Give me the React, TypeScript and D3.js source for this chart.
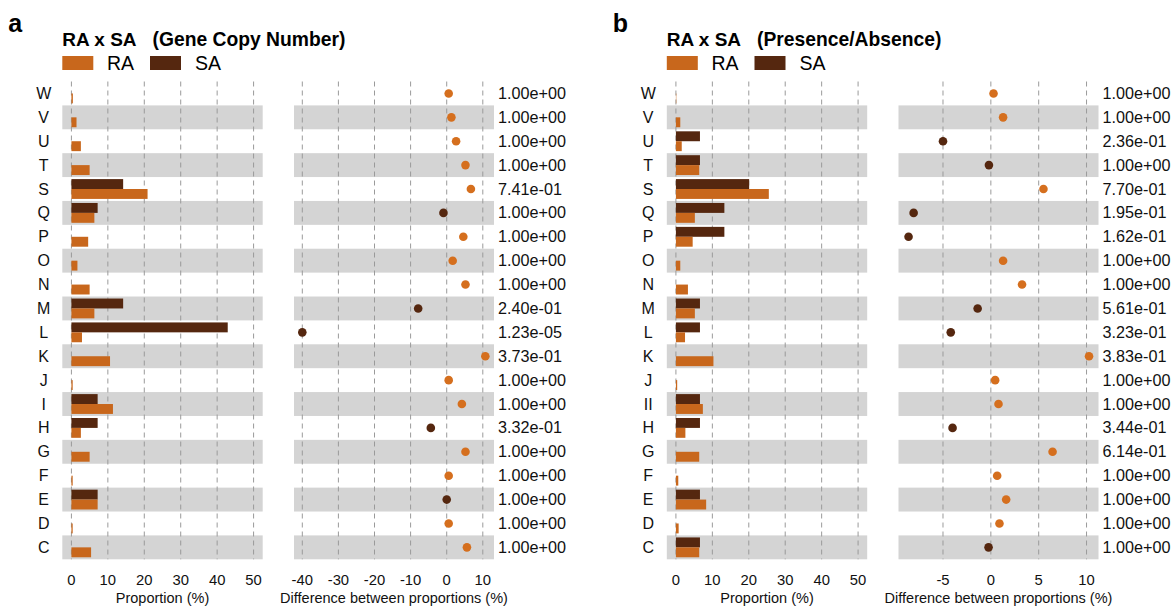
import React from 'react';
import * as d3 from 'd3';

// categories, top to bottom
const categories = ['W', 'V', 'U', 'T', 'S', 'Q', 'P', 'O', 'N', 'M', 'L', 'K', 'J', 'I', 'H', 'G', 'F', 'E', 'D', 'C'];
const labelsA = categories;
const labelsB = categories.map(c => (c === 'I' ? 'II' : c));

// panel a: gene copy number
const gcnRA = [0.4, 1.4, 2.6, 5.0, 20.9, 6.3, 4.6, 1.65, 5.0, 6.3, 2.9, 10.6, 0.35, 11.4, 2.6, 5.0, 0.35, 7.2, 0.35, 5.4];
const gcnSA = [0, 0, 0, 0, 14.2, 7.2, 0, 0, 0, 14.2, 42.9, 0, 0, 7.2, 7.2, 0, 0, 7.2, 0, 0];
const gcnDiff = [0.55, 1.3, 2.6, 5.2, 6.7, -0.9, 4.6, 1.66, 5.2, -7.9, -40.0, 10.7, 0.55, 4.2, -4.4, 5.2, 0.55, 0, 0.55, 5.6];
const gcnP = ['1.00e+00', '1.00e+00', '1.00e+00', '1.00e+00', '7.41e-01', '1.00e+00', '1.00e+00', '1.00e+00', '1.00e+00', '2.40e-01',
  '1.23e-05', '3.73e-01', '1.00e+00', '1.00e+00', '3.32e-01', '1.00e+00', '1.00e+00', '1.00e+00', '1.00e+00', '1.00e+00'];

// panel b: presence / absence
const paRA = [0.1, 1.2, 1.6, 6.4, 25.5, 5.2, 4.6, 1.2, 3.3, 5.2, 2.5, 10.3, 0.35, 7.4, 2.6, 6.4, 0.65, 8.3, 0.75, 6.4];
const paSA = [0, 0, 6.6, 6.6, 20.1, 13.3, 13.3, 0, 0, 6.6, 6.6, 0, 0, 6.6, 6.6, 0, 0, 6.6, 0, 6.6];
const paDiff = [0.28, 1.28, -5.0, -0.2, 5.5, -8.07, -8.6, 1.28, 3.26, -1.38, -4.19, 10.26, 0.45, 0.8, -4.0, 6.45, 0.66, 1.6, 0.9, -0.24];
const paP = ['1.00e+00', '1.00e+00', '2.36e-01', '1.00e+00', '7.70e-01', '1.95e-01', '1.62e-01', '1.00e+00', '1.00e+00', '5.61e-01',
  '3.23e-01', '3.83e-01', '1.00e+00', '1.00e+00', '3.44e-01', '6.14e-01', '1.00e+00', '1.00e+00', '1.00e+00', '1.00e+00'];

const propTicks = [0, 10, 20, 30, 40, 50];
const diffTicksA = [-40, -30, -20, -10, 0, 10];
const diffTicksB = [-5, 0, 5, 10];

const series = ['SA', 'RA'];
const colors: Record<string, string> = { RA: '#c8671c', SA: '#55270f' };
const dotColor = (d: number) => (d > 0 ? '#d56f1e' : '#55270f');

const font = '"Liberation Sans", Arial, Helvetica, sans-serif';
const svgWidth = 1176, svgHeight = 608;
const plotTop = 81.5, plotBottom = 559.3;
const gridColor = '#9a9a9a';

const yScale = d3.scaleBand<string>().domain(categories).range([plotTop, plotBottom]).padding(0);
const dodge = d3.scaleBand<string>().domain(series).range([0, yScale.bandwidth() * 0.83]).padding(0);

const Panel = (props: any) => {
  const { letter, title, sub, x0, labels, ra, sa, diff, pvals, diffDomain, diffTicks } = props;

  const barX = d3.scaleLinear().domain([-2.5, 52.5]).range([x0 + 0.3, x0 + 200.7]);
  const diffX = d3.scaleLinear().domain(diffDomain).range([x0 + 232, x0 + 432]);
  const labelX = x0 - 18.3;
  const pX = x0 + 436;
  const offset = (yScale.bandwidth() - dodge.range()[1]) / 2;

  return <g fontFamily={font}>
    {/* panel letter + title */}
    <text x={x0 - 53.7} y={31.5} fontSize={25} fontWeight='bold' fill='#000'>{letter}</text>
    <text x={x0 + 0.3} y={45.7} fontSize={19} fontWeight='bold' fill='#000'>{title}</text>
    <text x={x0 + 90.5} y={45.7} fontSize={19.3} fontWeight='bold' fill='#000'>{sub}</text>

    {/* legend */}
    <rect x={x0 + 0.3} y={56} width={31} height={14} fill={colors.RA}></rect>
    <text x={x0 + 45} y={70} fontSize={19.5} fill='#000'>RA</text>
    <rect x={x0 + 88} y={56} width={31} height={14} fill={colors.SA}></rect>
    <text x={x0 + 133} y={70} fontSize={19.5} fill='#000'>SA</text>

    {/* row backgrounds */}
    {categories.map((c, i) => i % 2 === 1 ? <g key={c}>
      <rect x={barX.range()[0]} y={yScale(c)} width={barX.range()[1] - barX.range()[0]} height={yScale.bandwidth()} fill='#d4d4d4'></rect>
      <rect x={diffX.range()[0]} y={yScale(c)} width={diffX.range()[1] - diffX.range()[0]} height={yScale.bandwidth()} fill='#d4d4d4'></rect>
    </g> : null)}

    {/* grid */}
    {propTicks.map(t => <g key={'p' + t}>
      <line x1={barX(t)} x2={barX(t)} y1={plotTop} y2={plotBottom} stroke={gridColor} strokeWidth={1} strokeDasharray='5,4'></line>
      <text x={barX(t)} y={585} textAnchor='middle' fontSize={14.8} fill='#111'>{t}</text>
    </g>)}
    {diffTicks.map((t: number) => <g key={'d' + t}>
      <line x1={diffX(t)} x2={diffX(t)} y1={plotTop} y2={plotBottom} stroke={gridColor} strokeWidth={1} strokeDasharray='5,4'></line>
      <text x={diffX(t)} y={585} textAnchor='middle' fontSize={14.8} fill='#111'>{t}</text>
    </g>)}

    {/* bars */}
    {categories.map((c, i) => <g key={'b' + c}>
      {sa[i] > 0 ? <rect x={barX(0)} y={(yScale(c) as number) + offset + (dodge('SA') as number)}
        width={barX(sa[i]) - barX(0)} height={dodge.bandwidth()} fill={colors.SA}></rect> : null}
      {ra[i] > 0 ? <rect x={barX(0)} y={(yScale(c) as number) + offset + (dodge('RA') as number)}
        width={barX(ra[i]) - barX(0)} height={dodge.bandwidth()} fill={colors.RA}></rect> : null}
    </g>)}

    {/* dots + p values */}
    {categories.map((c, i) => {
      const cy = (yScale(c) as number) + yScale.bandwidth() / 2;
      return <g key={'d' + c}>
        <circle cx={diffX(diff[i])} cy={cy} r={4.3} fill={dotColor(diff[i])}></circle>
        <text x={pX} y={cy} dy={5.5} fontSize={16.2} fill='#111'>{pvals[i]}</text>
        <text x={labelX} y={cy} dy={5.5} fontSize={16} textAnchor='middle' fill='#111'>{labels[i]}</text>
      </g>
    })}

    {/* axis titles */}
    <text x={(barX.range()[0] + barX.range()[1]) / 2} y={603} textAnchor='middle' fontSize={14.5} fill='#111'>Proportion (%)</text>
    <text x={(diffX.range()[0] + diffX.range()[1]) / 2} y={603} textAnchor='middle' fontSize={14.5} fill='#111'>Difference between proportions (%)</text>
  </g>
}

const App = () => {
  return <svg width={svgWidth} height={svgHeight} style={{ position: 'absolute', left: 0, top: 0, background: '#fff' }}>
    <rect width={svgWidth} height={svgHeight} fill='#fff'></rect>
    <Panel letter='a' title='RA x SA' sub='(Gene Copy Number)' x0={62} labels={labelsA}
      ra={gcnRA} sa={gcnSA} diff={gcnDiff} pvals={gcnP} diffDomain={[-42.3, 13.1]} diffTicks={diffTicksA} />
    <Panel letter='b' title='RA x SA' sub='(Presence/Absence)' x0={666.5} labels={labelsB}
      ra={paRA} sa={paSA} diff={paDiff} pvals={paP} diffDomain={[-9.65, 11.25]} diffTicks={diffTicksB} />
  </svg>
}

export default App;
